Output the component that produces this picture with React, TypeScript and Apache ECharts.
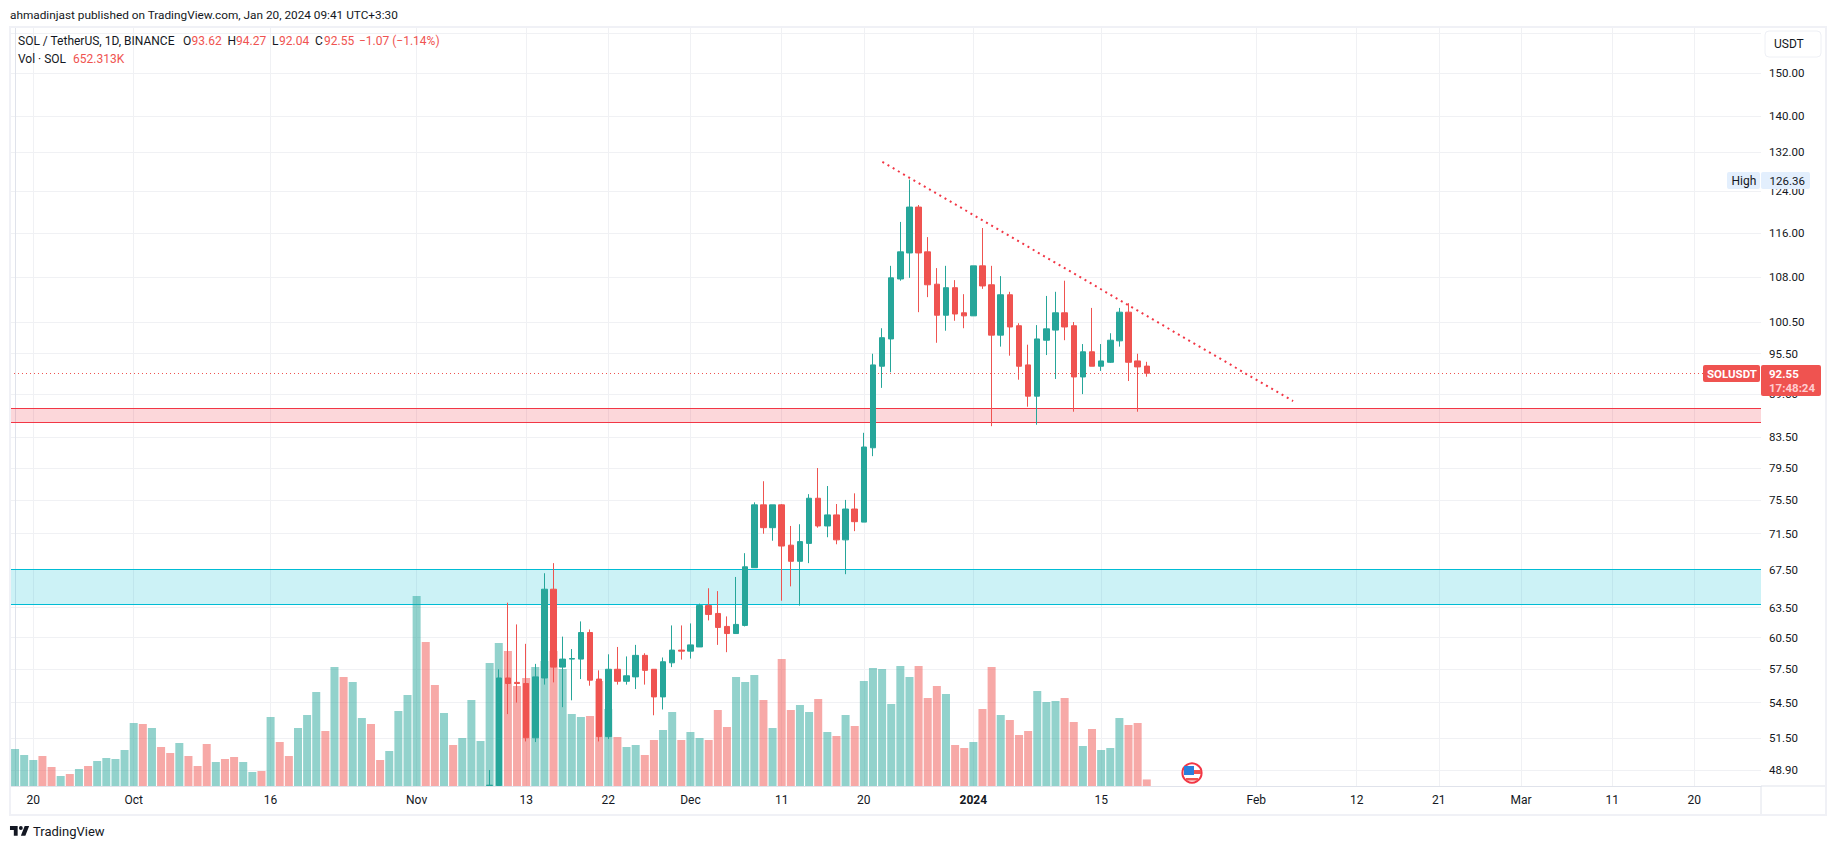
import React, { useEffect, useRef } from "react";
import * as echarts from "echarts";

const FONT = "Roboto, sans-serif";
const INK = "#131722";
const UP = "#26a69a";
const DOWN = "#ef5350";

// day index 0 = 18 Sep 2023
const xTickDays = [2, 13, 28, 44, 56, 65, 74, 84, 93, 105, 119, 136, 147, 156, 165, 175, 184];
const xTickLabels = ["20", "Oct", "16", "Nov", "13", "22", "Dec", "11", "20", "2024", "15", "Feb", "12", "21", "Mar", "11", "20"];
const priceGridLines = [48.9, 51.5, 54.5, 57.5, 60.5, 63.5, 67.5, 71.5, 75.5, 79.5, 83.5, 89.5, 95.5, 100.5, 108, 116, 124, 132, 140, 150, 160];
const priceLabels = [48.9, 51.5, 54.5, 57.5, 60.5, 63.5, 67.5, 71.5, 75.5, 79.5, 83.5, 89.5, 95.5, 100.5, 108, 116, 124, 132, 140, 150];

// volume in thousands, one per day from 18 Sep
const volumeK = [
  3700, 3100, 2600, 3000, 1900, 1000, 1200, 1700, 2000, 2500, 2800, 2700, 3600,
  6300, 6200, 5800, 3900, 3300, 4300, 3000, 2000, 4200, 2400, 2700, 2900, 2400, 1400, 1500, 6900, 4400, 3000, 5800, 7100, 9400, 5500, 11900, 10900, 10400, 6800, 6200, 2600, 3500, 7500, 9100,
  19000, 14400, 10100, 7300, 4100, 4800, 8600, 4500, 12300, 14300, 13500, 10000, 10800, 11900, 12500, 13500, 11700, 7200, 6900, 7000, 10500, 7700, 4900, 3900, 4100, 3100, 4600, 5600, 7400, 4600,
  5400, 4800, 4600, 7600, 5900, 10900, 10400, 11100, 8600, 5800, 12700, 7600, 8100, 7400, 8700, 5400, 5000, 7100, 6000, 10500, 11800, 11700, 8200, 12000, 10900, 12000, 8800, 10000, 9200, 4100, 3800,
  4400, 7700, 11900, 7100, 6600, 5100, 5500, 9500, 8400, 8500, 8800, 6400, 4000, 5700, 3600, 3800, 6800, 6100, 6300, 652.313,
];
const volumeRising = [
  1, 1, 1, 0, 0, 1, 0, 1, 0, 1, 1, 1, 1,
  1, 0, 1, 0, 0, 1, 0, 0, 0, 1, 0, 0, 1, 1, 0, 1, 0, 0, 1, 1, 1, 0, 1, 0, 1, 1, 0, 0, 1, 1, 1,
  1, 0, 0, 1, 0, 1, 1, 1, 1, 1, 0, 0, 0, 1, 1, 0, 1, 1, 1, 0, 0, 1, 0, 1, 1, 0, 0, 1, 1, 0,
  1, 1, 0, 0, 0, 1, 1, 1, 0, 1, 0, 0, 1, 1, 0, 1, 0, 1, 0, 1, 1, 1, 1, 1, 1, 0, 0, 0, 1, 0, 0,
  1, 0, 0, 1, 0, 0, 0, 1, 1, 1, 0, 0, 1, 0, 1, 1, 1, 0, 0, 0,
];

// candles from 9 Nov 2023 (day 52); earlier ones lie under the visible range
const FIRST_CANDLE_DAY = 52;
const candleOpen = [
  47.7, 47.7, 56.7, 56.3, 56.2, 51.5, 56.7, 65.4, 57.7, 58.45, 58.45, 61.0, 56.6, 51.6, 57.5, 56.4, 56.8, 58.8, 57.5, 55.0, 58.1, 59.3,
  59.2, 59.6, 63.7, 62.9, 61.6, 60.9, 61.7, 67.7, 74.9, 72.2, 74.9, 70.2, 68.4, 70.4, 75.7, 72.4, 73.7, 70.8, 74.4, 72.85, 82.1, 93.6, 97.8, 107.7, 112.3, 120.9, 112.5, 106.8, 101.6, 106.2, 102.0,
  101.5, 110.0, 106.7, 98.4, 105.0, 99.9, 93.8, 89.2, 97.6, 99.2, 102.0, 99.9, 92.0, 95.8, 93.6, 94.2, 97.5, 102.1, 94.4, 93.62,
];
const candleHigh = [
  48.9, 57.5, 64.0, 61.8, 59.9, 58.0, 67.1, 68.2, 60.6, 59.4, 62.1, 61.3, 57.4, 58.9, 59.6, 58.7, 59.8, 59.0, 57.5, 58.6, 61.7, 61.7,
  61.9, 63.9, 65.5, 65.2, 62.6, 66.7, 69.3, 75.2, 77.8, 74.9, 75.0, 72.4, 72.6, 76.2, 79.47, 77.2, 75.0, 75.5, 76.3, 84.1, 95.5, 99.5, 110.0, 118.05, 126.36, 121.3, 115.2, 109.6, 110.0, 107.5, 105.1,
  110.0, 116.9, 110.0, 108.2, 105.5, 100.3, 96.9, 100.0, 104.8, 105.5, 107.4, 100.5, 97.0, 102.8, 97.0, 98.7, 102.8, 103.6, 95.5, 94.27,
];
const candleLow = [
  47.7, 47.7, 53.5, 54.5, 51.2, 51.15, 56.1, 56.3, 54.1, 54.7, 56.6, 56.0, 51.2, 51.4, 56.1, 56.1, 55.7, 56.1, 53.4, 53.9, 57.7, 58.4,
  58.5, 59.6, 62.2, 59.8, 59.1, 60.9, 61.6, 67.7, 71.5, 70.7, 64.2, 65.7, 63.7, 68.2, 72.2, 71.1, 70.3, 67.0, 71.8, 72.85, 81.0, 90.4, 92.7, 107.4, 107.9, 102.1, 104.6, 97.2, 99.1, 100.7, 99.5,
  101.5, 106.0, 85.0, 96.6, 95.2, 91.6, 87.7, 85.2, 95.3, 91.7, 97.6, 87.0, 89.5, 93.6, 92.9, 94.1, 96.6, 91.4, 87.0, 92.04,
];
const candleClose = [
  47.72, 56.7, 56.2, 56.2, 51.5, 56.8, 65.4, 57.7, 58.45, 58.5, 61.0, 56.5, 51.6, 57.5, 56.4, 56.9, 58.8, 57.4, 55.0, 58.2, 59.3, 59.2,
  59.8, 63.7, 62.8, 61.5, 60.9, 61.8, 67.8, 74.9, 72.2, 74.9, 70.1, 68.4, 70.6, 75.7, 72.4, 73.7, 70.8, 74.4, 72.9, 82.2, 93.8, 98.0, 107.9, 112.5, 120.9, 112.3, 106.7, 101.6, 106.2, 101.8, 101.5,
  110.0, 106.5, 98.4, 105.0, 99.7, 93.6, 89.2, 97.8, 99.4, 102.0, 99.7, 92.0, 95.8, 93.6, 94.4, 97.6, 102.1, 94.2, 93.5, 92.55,
];

const redZone = [87.5, 85.5];
const tealZone = [67.5, 63.83];
const lastPrice = 92.55;
const trendDays = [95.03, 140.03];
const trendPrices = [130.0, 88.5];

const logoPath = "M14 6H2v6h6v9h6V6Zm12 15h-7l6-15h7l-6 15Zm-7-9a3 3 0 1 0 0-6 3 3 0 0 0 0 6Z";
echarts.graphic.registerShape("tvLogo", echarts.graphic.extendPath(logoPath as any, {}) as any);

const txt = (text: string, x: number, y: number, fill = INK, size = 12, weight: any = "normal") => ({
  type: "text",
  z: 60,
  silent: true,
  style: { text, x, y, fill, fontSize: size, fontFamily: FONT, fontWeight: weight, textVerticalAlign: "middle", textBaseline: "middle" },
});
const box = (x: number, y: number, width: number, height: number, fill: string, r = 0, stroke?: string, z = 50) => ({
  type: "rect",
  z,
  silent: true,
  shape: { x, y, width, height, r },
  style: { fill, stroke, lineWidth: stroke ? 1 : 0 },
});

export default function App() {
  const ref = useRef<HTMLDivElement>(null);
  useEffect(() => {
    document.body.style.margin = "0";
    const chart = echarts.init(ref.current!, undefined, { renderer: "svg" });
    const axisLabelMap = new Map(xTickDays.map((d, i) => [d, xTickLabels[i]]));
    const candles = candleOpen.map((o, i) => [FIRST_CANDLE_DAY + i, o, candleClose[i], candleLow[i], candleHigh[i]]);
    const bars = volumeK.map((v, i) => ({
      value: [i, v],
      itemStyle: { color: volumeRising[i] ? "rgba(38,166,154,0.5)" : "rgba(239,83,80,0.5)" },
    }));
    chart.setOption({
      animation: false,
      backgroundColor: "#ffffff",
      grid: { left: 10, top: 27, width: 1751, height: 759, containLabel: false },
      xAxis: {
        type: "value",
        min: -0.553,
        max: 191.3,
        axisLine: { show: true, onZero: false, lineStyle: { color: "#e0e3eb", width: 1 } },
        axisTick: { show: false, customValues: xTickDays },
        splitLine: { show: true, lineStyle: { color: "#f0f1f4", width: 1 } },
        axisLabel: {
          customValues: xTickDays,
          color: INK,
          fontSize: 12,
          fontFamily: FONT,
          margin: 8,
          hideOverlap: false,
          formatter: (v: number) => {
            const s = axisLabelMap.get(Math.round(v)) ?? "";
            return s === "2024" ? `{b|${s}}` : s;
          },
          rich: { b: { fontWeight: "bold", fontSize: 12, fontFamily: FONT, color: INK } },
        },
      },
      yAxis: [
        {
          type: "log",
          position: "right",
          min: 47.66,
          max: 161.5,
          axisLine: { show: true, lineStyle: { color: "#e0e3eb", width: 1 } },
          axisTick: { show: false, customValues: priceGridLines },
          splitLine: { show: true, lineStyle: { color: "#f0f1f4", width: 1 } },
          axisLabel: {
            customValues: priceLabels,
            color: INK,
            fontSize: 11.5,
            fontFamily: FONT,
            margin: 8,
            formatter: (v: number) => Number(v).toFixed(2),
          },
        },
        { type: "value", min: 0, max: 75900, show: false, splitLine: { show: false } },
      ],
      series: [
        {
          type: "line",
          name: "levels",
          data: [],
          yAxisIndex: 0,
          z: 1,
          silent: true,
          markArea: {
            silent: true,
            z: 1,
            data: [
              [{ yAxis: redZone[0], itemStyle: { color: "rgba(242,54,69,0.2)" } }, { yAxis: redZone[1] }],
              [{ yAxis: tealZone[0], itemStyle: { color: "rgba(0,188,212,0.2)" } }, { yAxis: tealZone[1] }],
            ],
          },
          markLine: {
            silent: true,
            z: 1,
            symbol: "none",
            label: { show: false },
            data: [
              { yAxis: redZone[0], lineStyle: { color: "#f23645", width: 1, type: "solid" } },
              { yAxis: redZone[1], lineStyle: { color: "#f23645", width: 1, type: "solid" } },
              { yAxis: tealZone[0], lineStyle: { color: "#00bcd4", width: 1, type: "solid" } },
              { yAxis: tealZone[1], lineStyle: { color: "#00bcd4", width: 1, type: "solid" } },
              { yAxis: lastPrice, lineStyle: { color: DOWN, width: 1, type: [1, 3] } },
            ],
          },
        },
        {
          type: "bar",
          name: "Vol",
          yAxisIndex: 1,
          z: 2,
          barWidth: 8,
          data: bars,
          silent: true,
        },
        {
          type: "candlestick",
          name: "SOL / TetherUS",
          yAxisIndex: 0,
          z: 3,
          barWidth: 6,
          encode: { x: 0, y: [1, 2, 3, 4] },
          data: candles,
          silent: true,
          itemStyle: { color: UP, color0: DOWN, borderColor: UP, borderColor0: DOWN, borderColorDoji: DOWN, borderWidth: 1 },
        },
        {
          type: "line",
          name: "trend",
          data: [],
          yAxisIndex: 0,
          z: 4,
          silent: true,
          markLine: {
            silent: true,
            z: 4,
            symbol: "none",
            label: { show: false },
            lineStyle: { color: "#f23645", width: 2, type: [2, 4] },
            data: [[{ coord: [trendDays[0], trendPrices[0]] }, { coord: [trendDays[1], trendPrices[1]] }]],
          },
        },
      ],
      graphic: [
        { type: "rect", z: 40, silent: true, shape: { x: 10, y: 27, width: 1816, height: 788 }, style: { fill: "none", stroke: "#f0f1f6", lineWidth: 2 } },
        { type: "line", z: 41, silent: true, shape: { x1: 1761, y1: 786, x2: 1825, y2: 786 }, style: { stroke: "#e0e3eb", lineWidth: 1 } },
        { type: "line", z: 41, silent: true, shape: { x1: 1761, y1: 786, x2: 1761, y2: 814 }, style: { stroke: "#e0e3eb", lineWidth: 1 } },
        txt("ahmadinjast published on TradingView.com, Jan 20, 2024 09:41 UTC+3:30", 10, 15, INK, 11.8),
        txt("SOL / TetherUS, 1D, BINANCE", 18, 41, INK, 12),
        txt("O", 183, 41),
        txt("93.62", 191.5, 41, DOWN),
        txt("H", 227.5, 41),
        txt("94.27", 236, 41, DOWN),
        txt("L", 272, 41),
        txt("92.04", 279, 41, DOWN),
        txt("C", 315, 41),
        txt("92.55", 324, 41, DOWN),
        txt("−1.07 (−1.14%)", 359, 41, DOWN),
        txt("Vol · SOL", 18, 59),
        txt("652.313K", 73, 59, DOWN),
        box(1765, 31, 56, 26, "#ffffff", 4, "#eef0f5"),
        txt("USDT", 1774, 44, INK, 12),
        box(1727, 172, 33, 17, "#e3effd", 2),
        box(1761, 172, 49, 17, "#e3effd", 2),
        txt("High", 1731.5, 180.5, INK, 12),
        txt("126.36", 1769.5, 180.5, INK, 11.5),
        box(1703, 365, 57, 17, DOWN, 2),
        box(1761, 365, 60, 31, DOWN, 2),
        txt("SOLUSDT", 1707, 373.5, "#ffffff", 11.5, "bold"),
        txt("92.55", 1769, 373.5, "#ffffff", 11.5, "bold"),
        txt("17:48:24", 1769, 388, "#ffcdd0", 11.5, "bold"),
        { type: "circle", z: 45, silent: true, shape: { cx: 1192, cy: 773, r: 9.6 }, style: { fill: "#ffffff", stroke: "#f23645", lineWidth: 2 } },
        box(1184, 766, 10, 9, "#2a7fdc", 0, undefined, 46),
        box(1194, 770, 7, 4, "#ef5350", 0, undefined, 46),
        box(1186, 778, 12, 2.5, "#ef5350", 0, undefined, 46),
        { type: "tvLogo", z: 60, silent: true, x: 8.7, y: 822.2, scaleX: 0.64, scaleY: 0.64, style: { fill: INK } },
        txt("TradingView", 33, 831, INK, 13),
      ],
    });
    return () => chart.dispose();
  }, []);
  return <div ref={ref} style={{ position: "absolute", left: 0, top: 0, width: 1835, height: 849 }} />;
}
